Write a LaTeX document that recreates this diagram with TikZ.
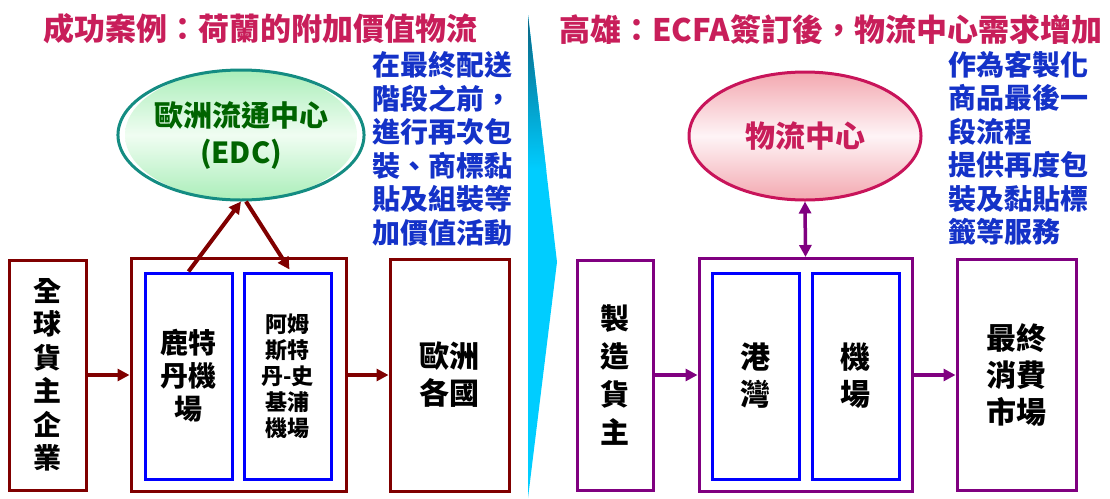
\documentclass[tikz,border=0pt]{standalone}
\usepackage{fontspec}
\setmainfont{Noto Sans CJK TC}
\usetikzlibrary{shapes.geometric,arrows.meta}
\definecolor{titlered}{RGB}{200,30,90}
\definecolor{txtblue}{RGB}{20,50,200}
\definecolor{dkgreen}{RGB}{0,100,0}
\definecolor{tealline}{RGB}{20,140,130}
\definecolor{dkred}{RGB}{128,0,0}
\definecolor{purp}{RGB}{128,0,128}
\definecolor{pinkline}{RGB}{200,20,90}
\definecolor{boxblue}{RGB}{0,0,255}
\definecolor{greenedge}{RGB}{170,238,185}
\definecolor{greenmid}{RGB}{240,253,242}
\definecolor{pinkedge}{RGB}{243,168,176}
\definecolor{pinkmid}{RGB}{254,244,246}
\definecolor{wedgeteal}{RGB}{10,95,125}
\definecolor{wedgecyan}{RGB}{0,205,255}
\tikzset{
  titletxt/.style={text=titlered,font=\fontsize{31}{31}\selectfont\bfseries,inner sep=0},
  notetxt/.style={text=txtblue,font=\fontsize{28}{33.5}\selectfont\bfseries,align=left,inner sep=0},
  redbox/.style={draw=dkred,line width=3pt,rectangle,inner sep=0,align=center},
  purpbox/.style={draw=purp,line width=3pt,rectangle,inner sep=0,align=center},
  bluebox/.style={draw=boxblue,line width=3pt,rectangle,inner sep=0,align=center},
  bigtxt/.style={font=\fontsize{30}{37}\selectfont\bfseries},
  redarrow/.style={draw=dkred,line width=4pt,-{Triangle[length=12pt,width=12pt]}},
  purparrow/.style={draw=purp,line width=3.5pt,-{Triangle[length=12pt,width=12pt]}},
}
\begin{document}
\begin{tikzpicture}[x=1pt,y=-1pt]
\useasboundingbox (0,0) rectangle (1110,498);
% divider wedge
\begin{scope}
\clip (528,15) -- (557,262) -- (528,498) -- cycle;
\fill[wedgecyan] (520,10) rectangle (560,500);
\shade[top color=wedgeteal,bottom color=wedgecyan] (520,10) rectangle (560,170);
\end{scope}
% titles
\node[titletxt] (t1) at (260,29) {成功案例：荷蘭的附加價值物流};
\node[titletxt] (t2) at (830.5,30) {高雄：ECFA簽訂後，物流中心需求增加};
% notes
\node[notetxt] (n1) at (442.5,149) {在最終配送\\階段之前，\\進行再次包\\裝、商標黏\\貼及組裝等\\加價值活動};
\node[notetxt] (n2) at (1018,148) {作為客製化\\商品最後一\\段流程\\提供再度包\\裝及黏貼標\\籤等服務};
% ellipses
\path[top color=greenedge,bottom color=greenedge,middle color=greenmid]
  (241,135) ellipse [x radius=116pt,y radius=65pt];
\node[ellipse,draw=tealline,line width=3pt,minimum width=232pt,minimum height=130pt,inner sep=0,
  text=dkgreen,align=center,font=\fontsize{29}{37}\selectfont\bfseries] (edc) at (241,135) {歐洲流通中心\\(EDC)};
\path[top color=pinkedge,bottom color=pinkedge,middle color=pinkmid]
  (805,136) ellipse [x radius=116pt,y radius=64pt];
\node[ellipse,draw=pinkline,line width=3pt,minimum width=232pt,minimum height=128pt,inner sep=0,
  text=titlered,font=\fontsize{30}{30}\selectfont\bfseries] (lc) at (805,136) {物流中心};
% left boxes
\node[redbox,minimum width=77pt,minimum height=230pt,font=\fontsize{28}{33.5}\selectfont\bfseries] (g1) at (47.5,375) {全\\球\\貨\\主\\企\\業};
\node[redbox,minimum width=215pt,minimum height=233pt] (o1) at (238.5,375) {};
\node[bluebox,minimum width=87pt,minimum height=206pt,font=\fontsize{28}{33}\selectfont\bfseries] (a1) at (188.5,376) {鹿特\\丹機\\場};
\node[bluebox,minimum width=87pt,minimum height=206pt,font=\fontsize{22}{26}\selectfont\bfseries] (b1) at (287.5,376) {阿姆\\斯特\\丹-史\\基浦\\機場};
\node[redbox,minimum width=119pt,minimum height=232pt,bigtxt] (e1) at (449.5,375) {歐洲\\各國};
% right boxes
\node[purpbox,minimum width=76pt,minimum height=230pt,font=\fontsize{29}{38}\selectfont\bfseries] (g2) at (615,375) {製\\造\\貨\\主};
\node[purpbox,minimum width=213pt,minimum height=233pt] (o2) at (805.5,375) {};
\node[bluebox,minimum width=87pt,minimum height=206pt,bigtxt] (a2) at (755.5,376) {港\\灣};
\node[bluebox,minimum width=87pt,minimum height=206pt,bigtxt] (b2) at (855.5,376) {機\\場};
\node[purpbox,minimum width=119pt,minimum height=231pt,bigtxt] (m2) at (1016.5,375) {最終\\消費\\市場};
% connectors left
\draw[redarrow] (g1.east) -- (o1.west);
\draw[redarrow] (o1.east) -- (e1.west);
\draw[redarrow] (a1.north) -- (edc.south);
\draw[redarrow] ([xshift=5pt]edc.south) -- ([xshift=2pt,yshift=2pt]b1.north);
% connectors right
\draw[purparrow] (g2.east) -- (o2.west);
\draw[purparrow] (o2.east) -- (m2.west);
\draw[draw=purp,line width=3.5pt,{Triangle[length=12pt,width=12pt]}-{Triangle[length=12pt,width=12pt]}] (lc.south) -- (o2.north);
\end{tikzpicture}
\end{document}
